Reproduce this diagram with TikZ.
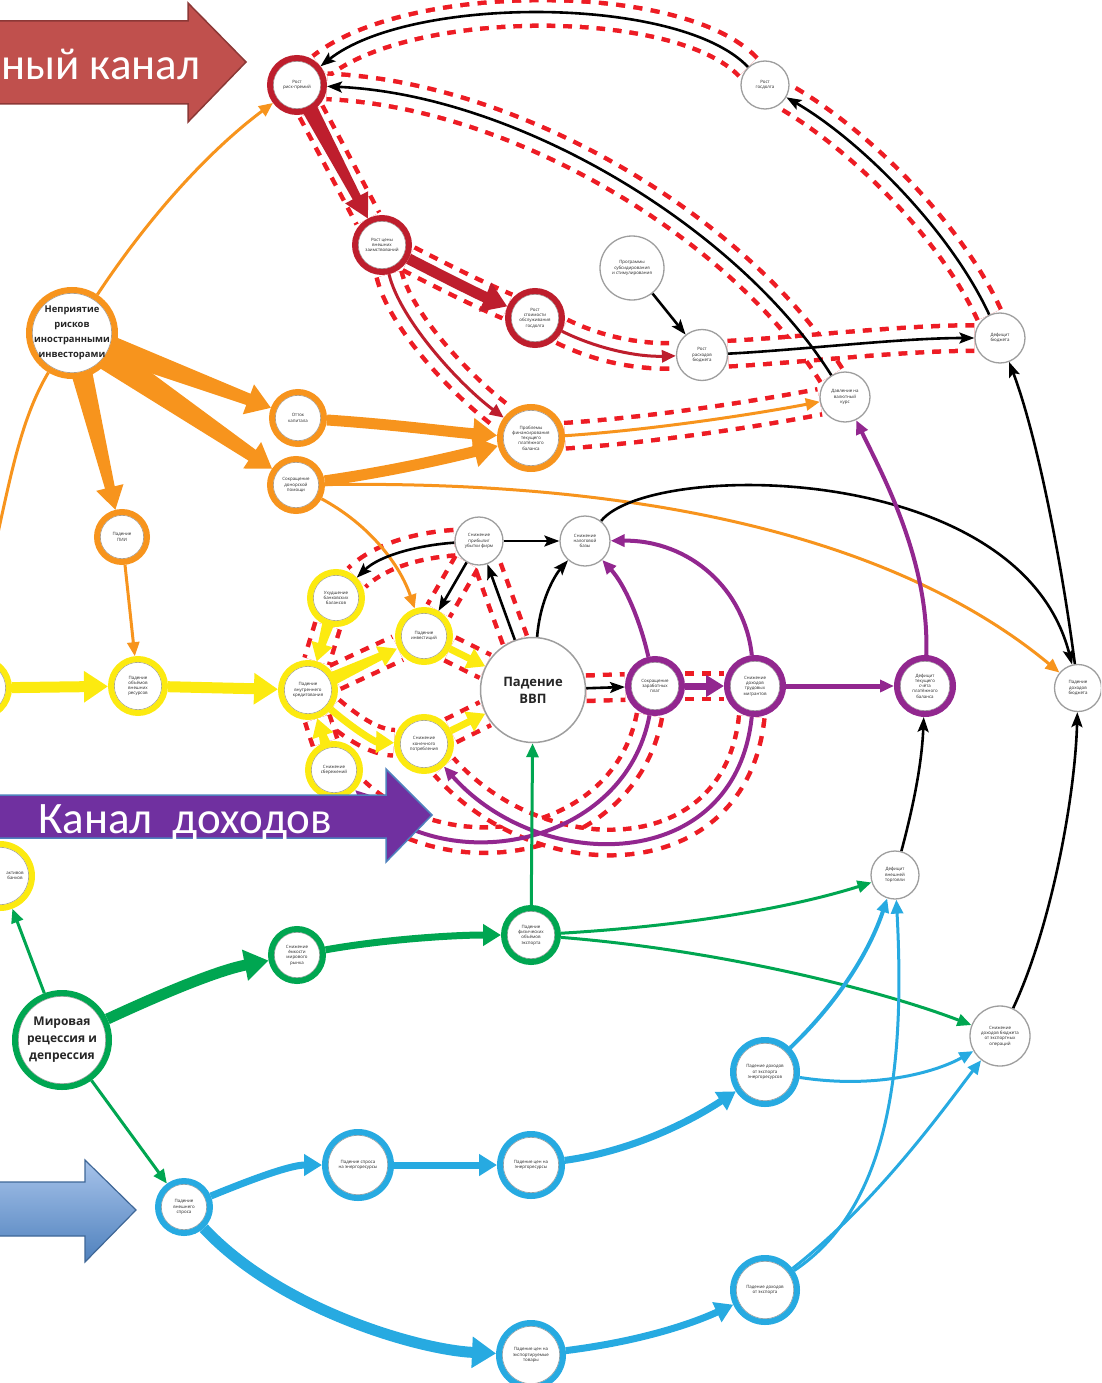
\documentclass[tikz,border=0pt]{standalone}
\usepackage{fontspec}
\setmainfont{Open Sans}
\newfontfamily\bannerfont{Carlito}
\usetikzlibrary{arrows.meta,calc}

\definecolor{cor}{HTML}{F7941D}
\definecolor{cred}{HTML}{BE1E2D}
\definecolor{cgreen}{HTML}{00A651}
\definecolor{cblue}{HTML}{27AAE1}
\definecolor{cpurple}{HTML}{92278F}
\definecolor{cyellow}{HTML}{FCEA10}
\definecolor{cgrey}{HTML}{9E9E9E}
\definecolor{flankred}{HTML}{ED1C24}
\definecolor{bannerred}{HTML}{C0504D}
\definecolor{bannerredline}{HTML}{8C3836}
\definecolor{bannerpurple}{HTML}{7030A0}
\definecolor{bannerblue}{HTML}{4F81BD}
\definecolor{bannerbluelight}{HTML}{A7C3EA}

\pgfdeclarelayer{flanks}
\pgfdeclarelayer{bg}
\pgfsetlayers{flanks,bg,main}

\newcommand\nodetxt{\fontsize{4.4}{5.3}\selectfont}
\newcommand\ringnode[6][]{\node[ringn, draw=#5, minimum size=#4pt-6pt, #1,
  path picture={\draw[cgrey, line width=0.7pt] (path picture bounding box.center) circle[radius=#4pt/2-6.3pt];}] (#2) at (#3) {#6};}
\newcommand\greynode[4]{\node[greyn, minimum size=#3pt] (#1) at (#2) {#4};}
\newcommand\bignepri{\fontsize{9.4}{15}\selectfont\bfseries}
\newcommand\bigmir{\fontsize{12}{17}\selectfont\bfseries}
\newcommand\bigvvp{\fontsize{13}{17}\selectfont\bfseries}
% tapered straight arrow: from, to, start offset, head-base offset, tip offset, half width start, half width end, half head width, colour
\newcommand\taper[9]{%
  \path ($(#1)!#3!(#2)$) coordinate (tA) ($(#2)!#4!(#1)$) coordinate (tB) ($(#2)!#5!(#1)$) coordinate (tT);
  \fill[#9] ($(tA)!#6!90:(#2)$) -- ($(tB)!#7!-90:(#1)$) -- ($(tB)!#8!-90:(#1)$) -- (tT)
    -- ($(tB)!#8!90:(#1)$) -- ($(tB)!#7!90:(#1)$) -- ($(tA)!#6!-90:(#2)$) -- cycle;}

\tikzset{
  ringn/.style={circle, fill=white, line width=6pt, inner sep=0pt, align=center, font=\nodetxt, text=black!85},
  greyn/.style={circle, draw=cgrey, fill=white, line width=1.3pt, inner sep=0pt, align=center, font=\nodetxt, text=black!85},
  e/.style={line width=3pt, -{Triangle[length=14pt,width=12pt]}},
  eb/.style={black, line width=2.6pt, -{Stealth[length=15pt,width=11pt,inset=3pt]}},
  big/.style={line width=11pt, -{Triangle[length=24pt,width=30pt]}},
  mid/.style={line width=7pt, -{Triangle[length=18pt,width=21pt]}},
  flank/.style={preaction={draw=flankred, line width=30pt, dash pattern=on 9pt off 8pt}, draw=white, line width=21pt},
}

\begin{document}
\begin{tikzpicture}[x=1pt, y=-1pt]
\useasboundingbox (0,0) rectangle (1101,1383);
\clip (0,0) rectangle (1101,1383);

% ---------- nodes ----------
\ringnode{riskprem}{297,85}{60}{cred}{Рост\\риск-премий}
\greynode{gosdolg}{765,85}{48}{Рост\\госдолга}
\ringnode{cenazaim}{382,245}{60}{cred}{Рост цены\\внешних\\заимствований}
\ringnode{stoim}{535,318}{60}{cred}{Рост\\стоимости\\обслуживания\\госдолга}
\greynode{progr}{632,268}{64}{Программы\\субсидирования\\и стимулирования}
\greynode{rashod}{702,355}{51}{Рост\\расходов\\бюджета}
\greynode{deficitbud}{1000,338}{50}{Дефицит\\бюджета}
\greynode{valkurs}{845,397}{50}{Давление на\\валютный\\курс}
\ringnode[font=\bignepri, inner sep=-8pt]{nepri}{72,333}{92}{cor}{Неприятие\\рисков\\иностранными\\инвесторами}
\ringnode{ottok}{298,418}{58}{cor}{Отток\\капитала}
\ringnode{sokrdol}{296,485}{58}{cor}{Сокращение\\донорской\\помощи}
\ringnode{problemy}{531,438}{68}{cor}{Проблемы\\финансирования\\текущего\\платёжного\\баланса}
\ringnode{pii}{122,537}{56}{cor}{Падение\\ПИИ}
\greynode{pribyl}{479,541}{48}{Снижение\\прибыли/\\убытки фирм}
\greynode{nalog}{585,541}{50}{Снижение\\налоговой\\базы}
\ringnode{bankbal}{336,598}{58}{cyellow}{Ухудшение\\банковских\\балансов}
\ringnode{invest}{424,636}{58}{cyellow}{Падение\\инвестиций}
\node[greyn, minimum size=105pt, line width=1.5pt, font=\bigvvp] (vvp) at (533,690) {Падение\\ВВП};
\ringnode{leftyellow}{-20,688}{64}{cyellow}{}
\ringnode{vneshres}{138,686}{60}{cyellow}{Падение\\объёмов\\внешних\\ресурсов}
\ringnode{vnutrkred}{308,690}{60}{cyellow}{Падение\\внутреннего\\кредитования}
\ringnode{sberezh}{334,770}{58}{cyellow}{Снижение\\сбережений}
\ringnode{potrebl}{424,744}{60}{cyellow}{Снижение\\конечного\\потребления}
\ringnode{zarplat}{655,686}{60}{cpurple}{Сокращение\\заработных\\плат}
\ringnode{migrant}{755,686}{62}{cpurple}{Снижение\\доходов\\трудовых\\мигрантов}
\ringnode{defcurr}{925,686}{62}{cpurple}{Дефицит\\текущего\\счёта\\платёжного\\баланса}
\greynode{dohbud}{1078,688}{47}{Падение\\доходов\\бюджета}
\ringnode{leftyellowb}{0,876}{70}{cyellow}{}
\node[font=\nodetxt, align=center, text=black!85, inner sep=0pt] (lybtext) at (15,876) {активов\\банков};
\ringnode{emk}{297,955}{58}{cgreen}{Снижение\\ёмкости\\мирового\\рынка}
\ringnode{fizexport}{531,935}{60}{cgreen}{Падение\\физических\\объёмов\\экспорта}
\ringnode[font=\bigmir, inner sep=-6pt]{mirrec}{62,1040}{100}{cgreen}{Мировая\\рецессия и\\депрессия}
\greynode{defvneshtorg}{895,875}{48}{Дефицит\\внешней\\торговли}
\greynode{dohexp}{1000,1036}{60}{Снижение\\доходов бюджета\\от экспортных\\операций}
\ringnode{energodoh}{765,1072}{70}{cblue}{Падение доходов\\от экспорта\\энергоресурсов}
\ringnode{vneshspros}{184,1207}{58}{cblue}{Падение\\внешнего\\спроса}
\ringnode{sprosenerg}{358,1165}{72}{cblue}{Падение спроса\\на энергоресурсы}
\ringnode{cenenerg}{531,1165}{68}{cblue}{Падение цен на\\энергоресурсы}
\ringnode{dohexport}{765,1290}{70}{cblue}{Падение доходов\\от экспорта}
\ringnode{cenexp}{531,1355}{70}{cblue}{Падение цен на\\экспортируемые\\товары}
\coordinate (offL) at (-8,560);

% ---------- red dashed flanks ----------
\begin{pgfonlayer}{flanks}
\draw[flank] (gosdolg) .. controls (680,-5) and (410,-5) .. (riskprem);
\draw[flank] (valkurs) .. controls (740,230) and (520,95) .. (riskprem);
\draw[flank] (riskprem) -- (cenazaim);
\draw[flank] (cenazaim) .. controls (440,275) and (480,295) .. (stoim);
\draw[flank] (cenazaim) .. controls (400,320) and (460,385) .. (problemy);
\draw[flank] (stoim) .. controls (600,350) and (640,357) .. (rashod);
\draw[flank] (rashod) .. controls (800,350) and (900,338) .. (deficitbud);
\draw[flank] (deficitbud) .. controls (950,230) and (860,140) .. (gosdolg);
\draw[flank] (problemy) .. controls (650,430) and (750,415) .. (valkurs);
\draw[flank] (pribyl) .. controls (420,545) and (380,555) .. (bankbal);
\draw[flank] (pribyl) -- (invest);
\draw[flank] (vvp) -- (pribyl);
\draw[flank] (vnutrkred) -- (invest);
\draw[flank] (vnutrkred) .. controls (355,730) and (375,742) .. (potrebl);
\draw[flank] (bankbal) -- (vnutrkred);
\draw[flank] (sberezh) -- (vnutrkred);
\draw[flank] (invest) -- (vvp);
\draw[flank] (potrebl) -- (vvp);
\draw[flank] (vvp) -- (zarplat);
\draw[flank] (zarplat) -- (migrant);
\draw[flank] (zarplat) .. controls (625,845) and (450,880) .. (sberezh);
\draw[flank] (migrant) .. controls (735,875) and (540,875) .. (potrebl);
\end{pgfonlayer}

% ---------- edges ----------
\begin{pgfonlayer}{bg}
% orange
\draw[e, cor] (nepri) .. controls (150,215) and (210,150) .. (riskprem);
\draw[cor, line width=3pt] (nepri) .. controls (20,420) and (10,480) .. (offL);
\taper{nepri}{ottok}{30pt}{53pt}{29pt}{12pt}{6pt}{16pt}{cor}
\taper{nepri}{sokrdol}{30pt}{53pt}{29pt}{14pt}{6.5pt}{16pt}{cor}
\taper{nepri}{pii}{30pt}{51pt}{28pt}{11pt}{5pt}{14pt}{cor}
\draw[big, cor] (ottok) .. controls (400,425) and (450,432) .. (problemy);
\draw[big, cor] (sokrdol) .. controls (400,470) and (460,455) .. (problemy);
\draw[e, cor] (sokrdol) .. controls (650,480) and (900,540) .. (dohbud);
\draw[e, cor] (sokrdol) .. controls (370,525) and (400,565) .. (invest);
\draw[e, cor] (pii) -- (vneshres);
\draw[e, cor] (problemy) .. controls (650,430) and (750,415) .. (valkurs);
% red
\taper{riskprem}{cenazaim}{20pt}{54pt}{30pt}{8pt}{4.5pt}{13pt}{cred}
\draw[big, cred] (cenazaim) .. controls (440,275) and (480,295) .. (stoim);
\draw[e, cred] (cenazaim) .. controls (400,320) and (460,385) .. (problemy);
\draw[e, cred] (stoim) .. controls (600,350) and (640,357) .. (rashod);
% black
\draw[eb] (gosdolg) .. controls (680,-5) and (410,-5) .. (riskprem);
\draw[eb] (valkurs) .. controls (740,230) and (520,95) .. (riskprem);
\draw[eb] (deficitbud) .. controls (950,230) and (860,140) .. (gosdolg);
\draw[eb] (rashod) .. controls (800,350) and (900,338) .. (deficitbud);
\draw[eb] (progr) -- (rashod);
\draw[eb] (dohbud) .. controls (1060,550) and (1035,430) .. (deficitbud);
\draw[eb] (dohexp) .. controls (1050,930) and (1075,800) .. (dohbud);
\draw[eb] (defvneshtorg) .. controls (915,800) and (922,760) .. (defcurr);
\draw[eb] (pribyl) -- (nalog);
\draw[eb] (pribyl) .. controls (420,545) and (380,555) .. (bankbal);
\draw[eb] (pribyl) -- (invest);
\draw[eb] (vvp) -- (pribyl);
\draw[eb] (vvp) .. controls (540,600) and (555,575) .. (nalog);
\draw[eb] (nalog) .. controls (650,460) and (1020,460) .. (dohbud);
\draw[eb] (vvp) -- (zarplat);
% purple
\draw[mid, cpurple] (zarplat) -- (migrant);
\draw[e, cpurple, line width=5pt] (migrant) -- (defcurr);
\draw[e, cpurple, line width=4pt] (defcurr) .. controls (930,560) and (880,470) .. (valkurs);
\draw[e, cpurple, line width=4pt] (zarplat) .. controls (640,620) and (625,585) .. (nalog);
\draw[e, cpurple, line width=4pt] (migrant) .. controls (745,590) and (690,540) .. (nalog);
\draw[e, cpurple, line width=4pt] (zarplat) .. controls (625,845) and (450,880) .. (sberezh);
\draw[e, cpurple, line width=4pt] (migrant) .. controls (735,875) and (540,875) .. (potrebl);
% green
\draw[big, cgreen] (mirrec) .. controls (170,990) and (220,970) .. (emk);
\draw[mid, cgreen] (emk) .. controls (380,940) and (450,935) .. (fizexport);
\draw[e, cgreen] (fizexport) -- (vvp);
\draw[e, cgreen] (fizexport) .. controls (700,925) and (800,905) .. (defvneshtorg);
\draw[e, cgreen] (fizexport) .. controls (720,950) and (880,990) .. (dohexp);
\draw[e, cgreen] (mirrec) -- (leftyellowb);
\draw[e, cgreen] (mirrec) -- (vneshspros);
% blue
\draw[mid, cblue] (vneshspros) .. controls (250,1180) and (290,1165) .. (sprosenerg);
\draw[mid, cblue] (sprosenerg) -- (cenenerg);
\draw[mid, cblue] (cenenerg) .. controls (640,1150) and (700,1115) .. (energodoh);
\draw[big, cblue] (vneshspros) .. controls (280,1310) and (420,1350) .. (cenexp);
\draw[mid, cblue] (cenexp) .. controls (650,1340) and (700,1320) .. (dohexport);
\draw[e, cblue, line width=4pt] (energodoh) .. controls (840,1000) and (870,950) .. (defvneshtorg);
\draw[e, cblue] (energodoh) .. controls (880,1090) and (940,1070) .. (dohexp);
\draw[e, cblue] (dohexport) .. controls (885,1210) and (906,1080) .. (defvneshtorg);
\draw[e, cblue] (dohexport) .. controls (880,1200) and (950,1100) .. (dohexp);
% yellow
\draw[big, cyellow] (leftyellow) -- (vneshres);
\draw[big, cyellow] (vneshres) -- (vnutrkred);
\taper{vnutrkred}{invest}{20pt}{48pt}{30pt}{7pt}{4pt}{11pt}{cyellow}
\draw[mid, cyellow] (vnutrkred) .. controls (355,730) and (375,742) .. (potrebl);
\taper{bankbal}{vnutrkred}{20pt}{48pt}{30pt}{6.5pt}{4pt}{11pt}{cyellow}
\taper{sberezh}{vnutrkred}{20pt}{48pt}{30pt}{6.5pt}{4pt}{11pt}{cyellow}
\draw[mid, cyellow] (invest) -- (vvp);
\draw[mid, cyellow] (potrebl) -- (vvp);
\end{pgfonlayer}

% ---------- banners ----------
\draw[fill=bannerred, draw=bannerredline, line width=1.5pt]
  (-5,21) -- (188,21) -- (188,3) -- (246,62) -- (188,122) -- (188,104) -- (-5,104) -- cycle;
\node[font=\bannerfont\fontsize{45}{45}\selectfont, text=white, anchor=base west, inner sep=0pt] (tbanner) at (1,80) {ный канал};
\draw[fill=bannerpurple, draw=bannerblue, line width=1.5pt]
  (-5,795) -- (386,795) -- (386,769) -- (432,815) -- (386,862) -- (386,838) -- (-5,838) -- cycle;
\node[font=\bannerfont\fontsize{45}{45}\selectfont, text=white, anchor=base west, inner sep=0pt] (pbanner) at (38,833) {Канал\ \ доходов};
\shade[top color=bannerbluelight, bottom color=bannerblue, draw=bannerblue!80!black, line width=1.2pt]
  (-5,1182) -- (85,1182) -- (85,1160) -- (136,1210) -- (85,1262) -- (85,1236) -- (-5,1236) -- cycle;
\end{tikzpicture}
\end{document}
